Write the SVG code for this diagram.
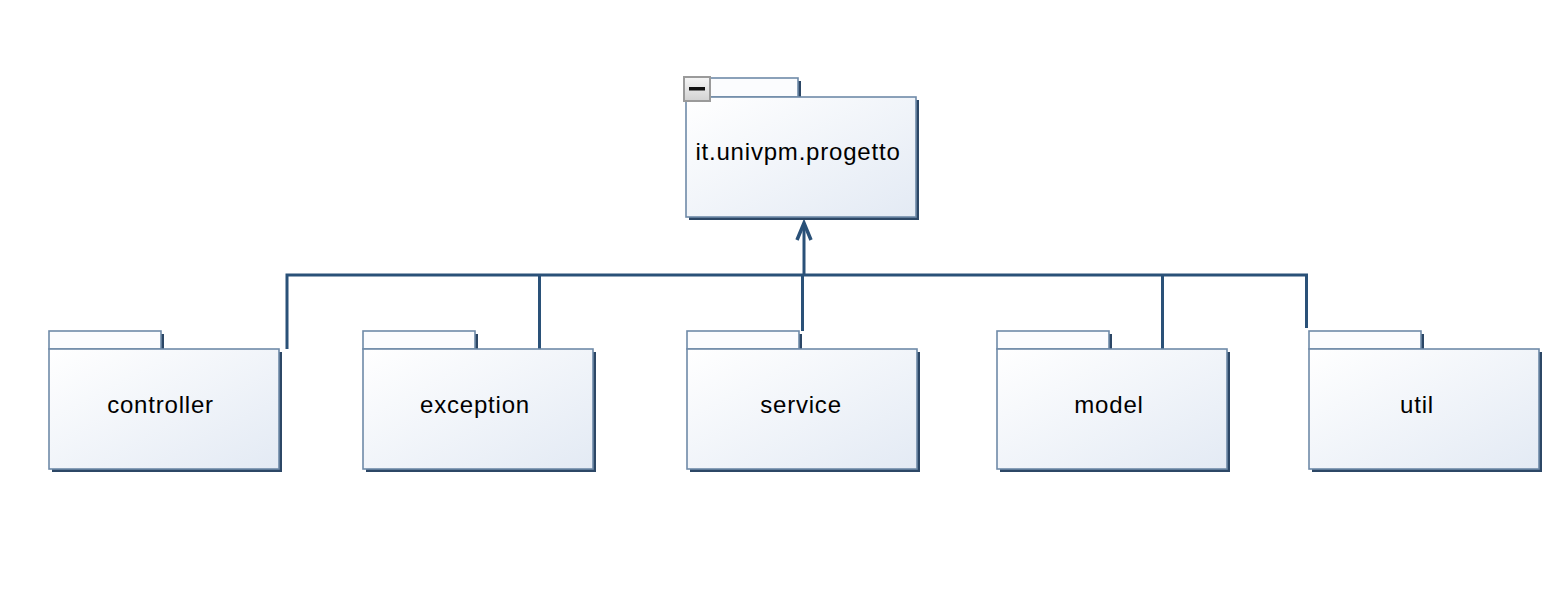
<svg xmlns="http://www.w3.org/2000/svg" width="1544" height="614" viewBox="0 0 1544 614">
<defs>
<linearGradient id="pk" x1="0" y1="0" x2="1" y2="1">
<stop offset="0" stop-color="#ffffff"/>
<stop offset="1" stop-color="#e3eaf4"/>
</linearGradient>
<linearGradient id="btn" x1="0" y1="0" x2="0" y2="1">
<stop offset="0" stop-color="#f6f6f6"/>
<stop offset="1" stop-color="#d2d2d2"/>
</linearGradient>
</defs>
<style>
.shadow{fill:#2c4766;}
.tab{fill:#fbfcfe;stroke:#6f8aa8;stroke-width:1.6;}
.body{fill:url(#pk);stroke:#6f8aa8;stroke-width:1.6;}
.lbl{font-family:"Liberation Sans",Arial,sans-serif;font-size:24px;letter-spacing:0.8px;fill:#000;text-anchor:middle;}
.conn{fill:none;stroke:#2a5178;stroke-width:3;}
.head{fill:none;stroke:#2a5178;stroke-width:3.5;stroke-linejoin:miter;}
</style>
<rect width="1544" height="614" fill="#ffffff"/>

<g id="connectors">
<path class="conn" d="M287 349 V275 H1306.5 V328"/>
<path class="conn" d="M539.5 349 V275"/>
<path class="conn" d="M802.5 331 V275"/>
<path class="conn" d="M1162.5 349 V275"/>
<path class="conn" d="M804 275 V223"/>
<path class="head" d="M797 240 L804 223 L811 240"/>
</g>

<g id="pkg-root">
<rect class="shadow" x="689" y="81" width="112" height="19"/>
<rect class="tab" x="686" y="78" width="112" height="19"/>
<rect class="shadow" x="689" y="100" width="230" height="120"/>
<rect class="body" x="686" y="97" width="230" height="120"/>
<rect x="684" y="77" width="26" height="24" fill="url(#btn)" stroke="#9a9a9a" stroke-width="2"/>
<rect x="689" y="87" width="16" height="3.5" fill="#111"/>
<text class="lbl" x="798" y="160">it.univpm.progetto</text>
</g>

<g id="pkg-controller">
<rect class="shadow" x="52" y="334" width="112" height="18"/>
<rect class="tab" x="49" y="331" width="112" height="18"/>
<rect class="shadow" x="52" y="352" width="230" height="120"/>
<rect class="body" x="49" y="349" width="230" height="120"/>
<text class="lbl" x="160.5" y="413">controller</text>
</g>

<g id="pkg-exception">
<rect class="shadow" x="366" y="334" width="112" height="18"/>
<rect class="tab" x="363" y="331" width="112" height="18"/>
<rect class="shadow" x="366" y="352" width="230" height="120"/>
<rect class="body" x="363" y="349" width="230" height="120"/>
<text class="lbl" x="475" y="413">exception</text>
</g>

<g id="pkg-service">
<rect class="shadow" x="690" y="334" width="112" height="18"/>
<rect class="tab" x="687" y="331" width="112" height="18"/>
<rect class="shadow" x="690" y="352" width="230" height="120"/>
<rect class="body" x="687" y="349" width="230" height="120"/>
<text class="lbl" x="801" y="413">service</text>
</g>

<g id="pkg-model">
<rect class="shadow" x="1000" y="334" width="112" height="18"/>
<rect class="tab" x="997" y="331" width="112" height="18"/>
<rect class="shadow" x="1000" y="352" width="230" height="120"/>
<rect class="body" x="997" y="349" width="230" height="120"/>
<text class="lbl" x="1109" y="413">model</text>
</g>

<g id="pkg-util">
<rect class="shadow" x="1312" y="334" width="112" height="18"/>
<rect class="tab" x="1309" y="331" width="112" height="18"/>
<rect class="shadow" x="1312" y="352" width="230" height="120"/>
<rect class="body" x="1309" y="349" width="230" height="120"/>
<text class="lbl" x="1417" y="413">util</text>
</g>
</svg>
